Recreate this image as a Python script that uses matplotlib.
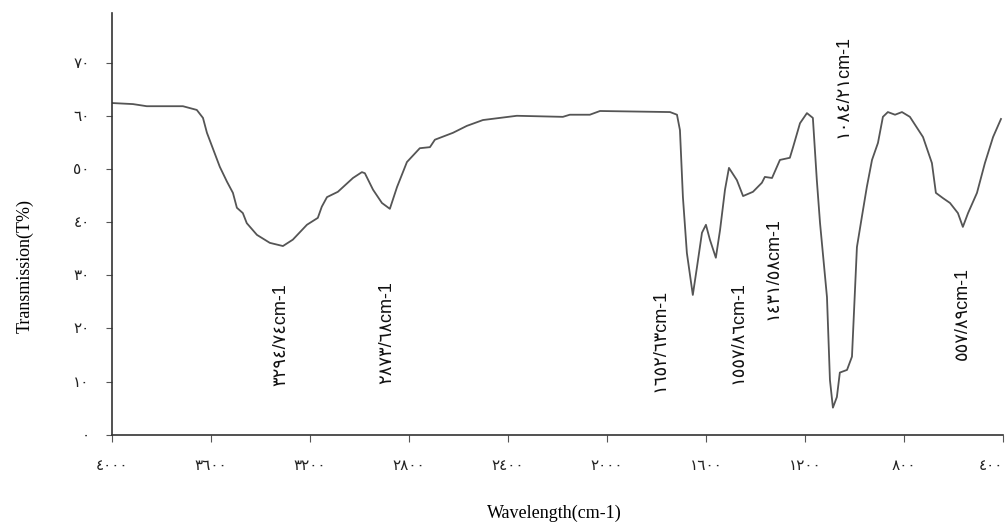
import matplotlib
matplotlib.use("Agg")
import matplotlib.pyplot as plt
import numpy as np

# IR spectrum, values
wavenumber = [4000, 3915, 3859, 3713, 3657, 3632, 3616, 3564, 3535, 3511, 3495, 3471,
              3455, 3414, 3362, 3309, 3269, 3212, 3168, 3152, 3131, 3087, 3026, 2990,
              2978, 2945, 2909, 2877, 2848, 2808, 2756, 2715, 2695, 2622, 2566, 2501,
              2364, 2178, 2150, 2069, 2028, 1745, 1717, 1705, 1693, 1677, 1653, 1636,
              1616, 1600, 1584, 1560, 1543, 1523, 1507, 1475, 1450, 1410, 1374, 1362,
              1333, 1301, 1261, 1248, 1220, 1192, 1168, 1152, 1139, 1111, 1099, 1087,
              1071, 1059, 1030, 1010, 990, 970, 950, 929, 905, 885, 865, 836, 808, 776,
              723, 687, 671, 642, 614, 582, 562, 541, 505, 473, 440, 408]
transmission = [62.4, 62.2, 61.8, 61.8, 61.1, 59.6, 56.8, 50.4, 47.6, 45.5, 42.7, 41.7,
                39.8, 37.6, 36.1, 35.5, 36.7, 39.5, 40.8, 42.9, 44.7, 45.7, 48.3, 49.4,
                49.2, 46.1, 43.6, 42.5, 46.6, 51.3, 53.9, 54.1, 55.5, 56.8, 58.1, 59.2,
                60.0, 59.8, 60.2, 60.2, 60.9, 60.7, 60.2, 57.3, 44.7, 34.2, 26.3, 31.6,
                38.0, 39.5, 36.7, 33.3, 38.5, 46.1, 50.2, 47.9, 44.9, 45.7, 47.4, 48.5,
                48.3, 51.7, 52.1, 54.1, 58.6, 60.5, 59.6, 47.9, 39.8, 25.9, 10.3, 5.1,
                7.1, 11.7, 12.2, 14.7, 35.3, 41.0, 46.6, 51.7, 54.9, 59.8, 60.7, 60.2,
                60.7, 59.8, 56.0, 51.1, 45.5, 44.5, 43.6, 41.7, 39.1, 41.7, 45.5, 51.1,
                56.0, 59.4]

peak_labels = ["٣٢٩٤/٧٤cm-1", "٢٨٧٣/٦٨cm-1", "١٦٥٢/٦٣cm-1", "١٥٥٧/٨٦cm-1",
               "١٤٣١/٥٨cm-1", "١٠٨٤/٢١cm-1", "٥٥٧/٨٩cm-1"]
peak_x = [3317, 2889, 1786, 1471, 1329, 1046, 562]
peak_y = [18.8, 19.2, 17.7, 19.2, 31.2, 65.6, 22.9]

xticks = [4000, 3600, 3200, 2800, 2400, 2000, 1600, 1200, 800, 400]
xtick_labels = ["٤٠٠٠", "٣٦٠٠", "٣٢٠٠", "٢٨٠٠", "٢٤٠٠", "٢٠٠٠", "١٦٠٠", "١٢٠٠", "٨٠٠", "٤٠٠"]
yticks = [0, 10, 20, 30, 40, 50, 60, 70]
ytick_labels = ["٠", "١٠", "٢٠", "٣٠", "٤٠", "٥٠", "٦٠", "٧٠"]

fam = ["Liberation Serif", "DejaVu Sans"]
lab_fam = ["Liberation Sans", "DejaVu Sans"]

fig = plt.figure(figsize=(10.08, 5.27), dpi=100)
ax = fig.add_axes([0.111, 0.175, 0.884, 0.80])

ax.plot(wavenumber, transmission, color="#555555", lw=1.3)
ax.set_xlim(4000, 400)
ax.set_ylim(0, 79.3)

for s in ["top", "right"]:
    ax.spines[s].set_visible(False)
for s in ["left", "bottom"]:
    ax.spines[s].set_color("#333333")
    ax.spines[s].set_linewidth(1.2)

ax.set_xticks(xticks)
ax.set_xticklabels(xtick_labels, family=fam, fontsize=11, color="#222222")
ax.get_xticklabels()[-1].set_horizontalalignment("right")
ax.set_yticks(yticks)
ax.set_yticklabels(ytick_labels, family=fam, fontsize=11, color="#222222")
ax.tick_params(axis="x", length=5, pad=13, color="#555555")
ax.tick_params(axis="y", length=4, pad=12, color="#555555")

for lab, x, y in zip(peak_labels, peak_x, peak_y):
    ax.text(x, y, lab, rotation=90, ha="center", va="center",
            fontsize=13, family=lab_fam, color="#111111")

fig.text(0.025, 0.495, "Transmission(T%)", rotation=90, ha="center", va="center",
         fontsize=13, family="Liberation Serif")
fig.text(0.55, 0.025, "Wavelength(cm-1)", ha="center", va="center",
         fontsize=13, family="Liberation Serif")

fig.savefig("out.png", dpi=100)
